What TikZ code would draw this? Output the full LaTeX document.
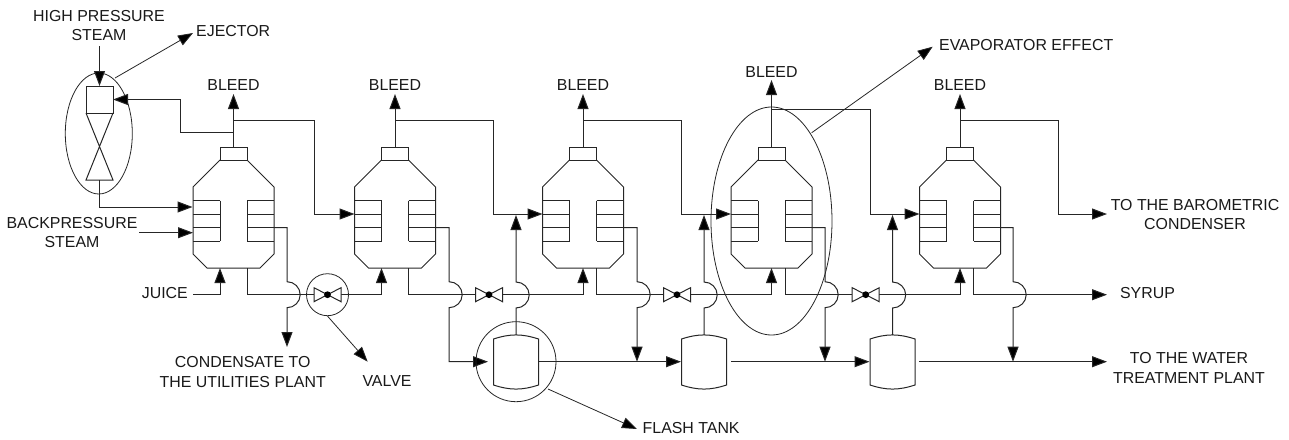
\documentclass[tikz,border=0pt]{standalone}
\usepackage{fontspec}
\setmainfont{Liberation Sans}
\usetikzlibrary{arrows.meta,shapes.geometric}
\tikzset{
  x=1pt,y=-1pt,
  pipe/.style={draw=black!85,line width=1pt,line join=miter},
  flow/.style={pipe,-{Triangle[length=15pt,width=11pt,fill=black]}},
  thin line/.style={draw=black!85,line width=0.8pt},
  leader/.style={thin line,-{Triangle[length=15pt,width=11pt,fill=black]}},
  lab/.style={font=\fontsize{15.9}{18}\selectfont,inner sep=0pt,text=black!90},
}
% one evaporator effect: centre x
\newcommand{\effect}[2]{%
  \coordinate (#1top) at (#2,147);
  \coordinate (#1bot) at (#2,268);
  \coordinate (#1stubL) at ({#2-13.5},268);
  \coordinate (#1stubR) at ({#2+13.5},268);
  \coordinate (#1in) at ({#2-40.5},214);
  \coordinate (#1cond) at ({#2+40.5},227.5);
  \draw[pipe] ({#2-13.5},147) rectangle ({#2+13.5},160);
  \draw[pipe] ({#2-13.5},160) -- ({#2-40.5},187) -- ({#2-40.5},254) -- ({#2-26.5},268)
     -- ({#2+26.5},268) -- ({#2+40.5},254) -- ({#2+40.5},187) -- ({#2+13.5},160);
  \foreach \yy in {200.7,214,227.5,241} {
    \draw[pipe] ({#2-40.5},\yy) -- ({#2-13.5},\yy);
    \draw[pipe] ({#2+13.5},\yy) -- ({#2+40.5},\yy);
  }
  \draw[pipe] ({#2-13.5},200.7) -- ({#2-13.5},241);
  \draw[pipe] ({#2+13.5},200.7) -- ({#2+13.5},241);
}
\newcommand{\tank}[2]{%
  \draw[pipe] ({#2-22.5},339) to[bend left=18] ({#2+22.5},339) -- ({#2+22.5},385)
     to[bend left=18] ({#2-22.5},385) -- cycle;
  \coordinate (#1top) at (#2,335);
}
\newcommand{\valve}[2]{%
  \coordinate (#1) at (#2,294.7);
  \draw[pipe,fill=white] ({#2-13.5},287.7) -- ({#2+13.5},301.7) -- ({#2+13.5},287.7) -- ({#2-13.5},301.7) -- cycle;
  \fill[black] (#2,294.7) circle (3.4);
}
\newcommand{\hop}{to[out=0,in=90] ++(13.2,13) to[out=-90,in=0] ++(-13.2,13)}
\begin{document}
\begin{tikzpicture}
\useasboundingbox (0,0) rectangle (1289,439);
% effects
\effect{a}{233.5}
\effect{b}{395}
\effect{c}{583}
\effect{d}{771.5}
\effect{e}{960}
% tanks
\tank{t}{516}
\tank{u}{704}
\tank{v}{892.5}
% labels
\node[lab] (hp1) at (99,16) {HIGH PRESSURE};
\node[lab] (hp2) at (99,35) {STEAM};
\node[lab,anchor=west] (ej) at (196,31) {EJECTOR};
\node[lab] (bl1) at (233.5,85) {BLEED};
\node[lab] (bl2) at (395,85) {BLEED};
\node[lab] (bl3) at (583,85) {BLEED};
\node[lab] (bl4) at (771.5,72) {BLEED};
\node[lab] (bl5) at (960,85) {BLEED};
\node[lab,anchor=west] (evap) at (939,45) {EVAPORATOR EFFECT};
\node[lab] (bp1) at (72,223) {BACKPRESSURE};
\node[lab] (bp2) at (72,242) {STEAM};
\node[lab,anchor=east] (juice) at (188,293) {JUICE};
\node[lab] (co1) at (242.7,362.5) {CONDENSATE TO};
\node[lab] (co2) at (242.7,382) {THE UTILITIES PLANT};
\node[lab] (valv) at (387,381) {VALVE};
\node[lab,anchor=west] (flash) at (642.5,428) {FLASH TANK};
\node[lab] (ba1) at (1195,205) {TO THE BAROMETRIC};
\node[lab] (ba2) at (1195,224) {CONDENSER};
\node[lab] (syr) at (1147.5,293) {SYRUP};
\node[lab] (wa1) at (1189,358) {TO THE WATER};
\node[lab] (wa2) at (1189,378) {TREATMENT PLANT};
% ejector
\draw[pipe] (86,86) rectangle (113,113);
\draw[pipe] (86,113) -- (113,180) -- (86,180) -- (113,113);
\coordinate (ejtop) at (99.5,86);
\coordinate (ejside) at (113,99.5);
\coordinate (ejbot) at (99.5,180);
\coordinate (ain2) at (192.5,207);
\node[draw=black!85,line width=0.8pt,ellipse,minimum width=67pt,minimum height=121pt,inner sep=0pt] (ejcirc) at (98.8,133.5) {};
\draw[flow] (99.5,46) -- (ejtop);
\draw[leader] (115,78) -- (193,33);
\draw[flow] (ejbot) |- (ain2);
% bleeds
\draw[flow] (atop) -- (233.5,94);
\draw[flow] (btop) -- (395,94);
\draw[flow] (ctop) -- (583,94);
\draw[flow] (dtop) -- (771.5,80);
\draw[flow] (etop) -- (960,94);
% vapour lines
\draw[flow] (233.5,132) -- (180,132) -- (180,99.5) -- (ejside);
\draw[flow] (233.5,120) -- (314,120) -- (314,214) -- (bin);
\draw[flow] (395,120) -- (493,120) -- (493,214) -- (cin);
\draw[flow] (583,120) -- (681.7,120) -- (681.7,214) -- (din);
\draw[flow] (771.5,109) -- (870,109) -- (870,214) -- (ein);
\draw[flow] (960,120) -- (1058,120) -- (1058,214) -- (1107,214);
% backpressure
\draw[flow] (139,232.7) -- (193,232.7);
% juice line
\draw[flow] (193,294.7) -- (220,294.7) -- (astubL);
\draw[flow] (astubR) -- (247,294.7) -- (381.5,294.7) -- (381.5,268);
\draw[flow] (bstubR) -- (408.5,294.7) -- (583,294.7) -- (cbot);
\draw[flow] (cstubR) -- (596.5,294.7) -- (771.5,294.7) -- (dbot);
\draw[flow] (dstubR) -- (785,294.7) -- (960,294.7) -- (ebot);
\draw[flow] (estubR) -- (973.5,294.7) -- (1107,294.7);
% valves
\valve{v1}{327.5}
\valve{v2}{489}
\valve{v3}{677}
\valve{v4}{865.7}
\node[draw=black!85,line width=0.8pt,circle,minimum size=42pt,inner sep=0pt] (vcirc) at (327.5,294.7) {};
\draw[leader] (vcirc.south) -- (367.7,361.7);
% condensate lines with hops
\draw[flow] (acond) -- (287,227.5) -- (287,281.7) \hop -- (287,347);
\draw[flow] (bcond) -- (449,227.5) -- (449,281.7) \hop -- (449,361.7) -- (488,361.7);
\draw[flow] (ccond) -- (637,227.5) -- (637,281.7) \hop -- (637,361.7);
\draw[flow] (dcond) -- (825,227.5) -- (825,281.7) \hop -- (825,361.7);
\draw[flow] (econd) -- (1013,227.5) -- (1013,281.7) \hop -- (1013,361.7);
% tank risers with hops
\draw[flow] (ttop) -- (516,308) to[out=0,in=-90] ++(13.2,-13) to[out=90,in=0] ++(-13.2,-13) -- (516,215);
\draw[flow] (utop) -- (704,308) to[out=0,in=-90] ++(13.2,-13) to[out=90,in=0] ++(-13.2,-13) -- (704,215);
\draw[flow] (vtop) -- (892.5,308) to[out=0,in=-90] ++(13.2,-13) to[out=90,in=0] ++(-13.2,-13) -- (892.5,215);
% condensate water header
\draw[flow] (538.5,361.7) -- (681,361.7);
\draw[flow] (731,361.7) -- (869.5,361.7);
\draw[flow] (919,361.7) -- (1107,361.7);
% call-outs
\node[draw=black!85,line width=0.8pt,circle,minimum size=80pt,inner sep=0pt] (fcirc) at (516,361.7) {};
\draw[leader] (548,389) -- (637,429);
\node[draw=black!85,line width=0.8pt,ellipse,minimum width=121pt,minimum height=228pt,inner sep=0pt] (ecirc) at (771.5,221) {};
\draw[leader] (811.7,132.7) -- (932.7,46.7);
\end{tikzpicture}
\end{document}
